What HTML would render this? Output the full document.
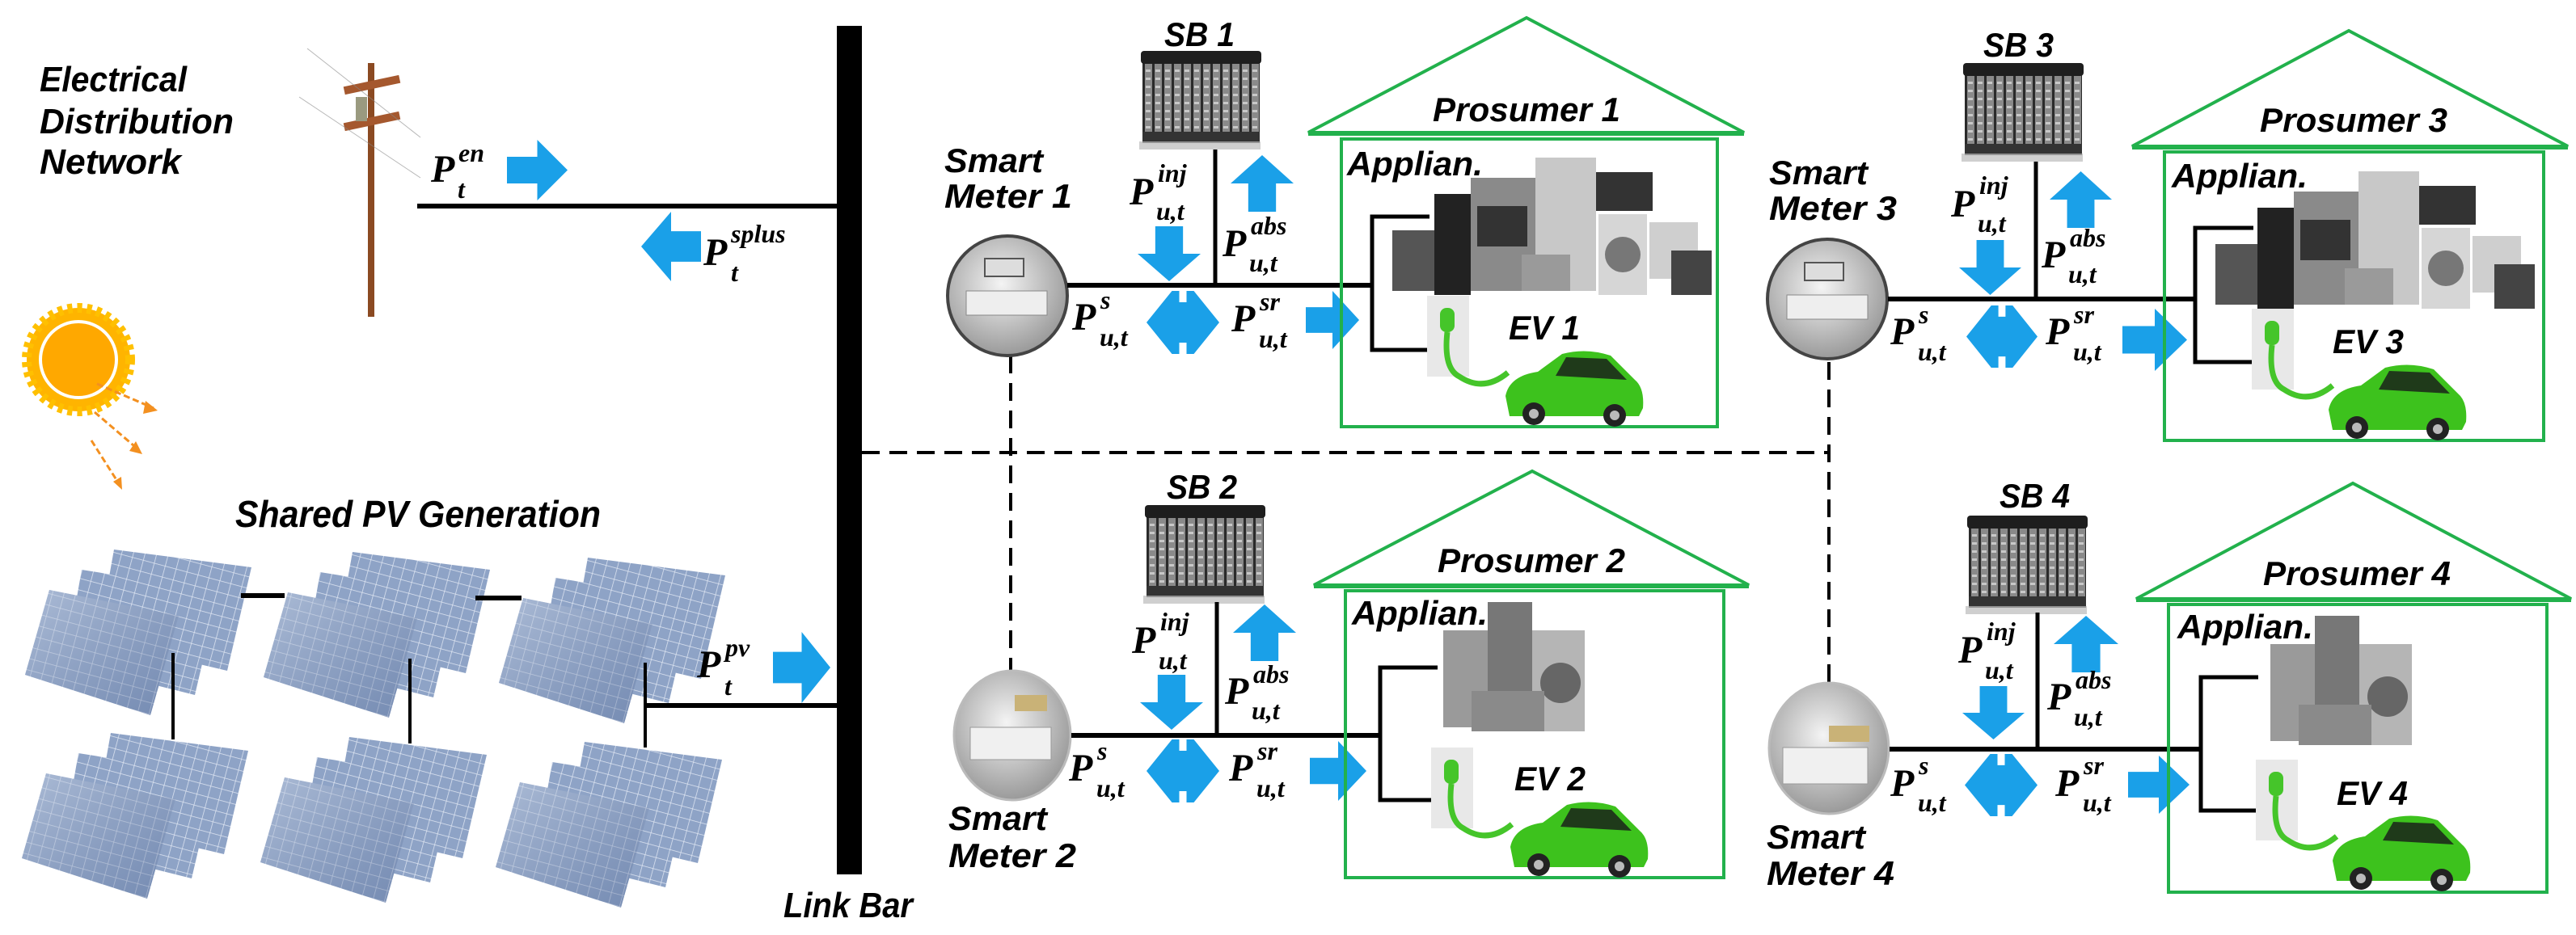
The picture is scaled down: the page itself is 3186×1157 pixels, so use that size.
<!DOCTYPE html>
<html><head><meta charset="utf-8"><style>
html,body{margin:0;padding:0;background:#fff;}
svg{display:block}
.t{font-family:"Liberation Sans Narrow","Liberation Sans",sans-serif;font-style:italic;font-weight:bold;fill:#000}
.m{font-family:"Liberation Serif",serif;font-style:italic;font-weight:bold;fill:#000}
.bl{fill:#1aa0e8}
.ln{stroke:#000;stroke-width:6;fill:none}
.hs{stroke:#22b14c;stroke-width:4;fill:none}
</style></head><body>
<svg width="3186" height="1157" viewBox="0 0 3186 1157" xmlns="http://www.w3.org/2000/svg">
<defs>
<pattern id="grid" width="14" height="14" patternUnits="userSpaceOnUse" patternTransform="rotate(15)">
<rect width="14" height="14" fill="#8ea3c6"/><path d="M0 0H14M0 0V14" stroke="#dfe6f2" stroke-width="1.5"/></pattern>
<linearGradient id="pg" x1="0" y1="0" x2="1" y2="1"><stop offset="0" stop-color="#c9d4e6" stop-opacity=".5"/><stop offset="1" stop-color="#4d6593" stop-opacity=".4"/></linearGradient>
<pattern id="bat" width="12" height="10" patternUnits="userSpaceOnUse"><rect width="12" height="10" fill="#8a8a8a"/><rect x="0" width="3" height="10" fill="#2a2a2a"/><rect x="4" y="3" width="6" height="3" fill="#c8c8c8"/></pattern>
<radialGradient id="mg" cx=".45" cy=".4" r=".6"><stop offset="0" stop-color="#f4f4f4"/><stop offset="1" stop-color="#9a9a9a"/></radialGradient>
<g id="panel">
<polygon points="120,0 290,22 260,150 100,112" fill="url(#grid)"/>
<polygon points="80,25 250,52 220,180 60,140" fill="url(#grid)"/>
<polygon points="40,50 200,82 165,205 10,155" fill="url(#grid)"/>
<polygon points="40,50 200,82 165,205 10,155" fill="url(#pg)"/>
</g>
<g id="bt">
<rect x="0" y="10" width="145" height="95" fill="url(#bat)"/>
<rect x="-2" y="0" width="149" height="16" rx="4" fill="#1e1e1e"/>
<rect x="0" y="100" width="145" height="14" fill="#333"/>
<rect x="-4" y="112" width="150" height="10" fill="#bbb" opacity=".7"/>
</g>
<g id="car">
<path d="M0,60 Q5,35 40,30 L70,8 Q100,0 130,10 L160,40 Q172,50 170,75 L165,85 L5,85 Z" fill="#3dc21d"/>
<path d="M75,12 L125,14 L150,40 L62,35 Z" fill="#1f3a1a"/>
<circle cx="35" cy="82" r="14" fill="#222"/><circle cx="135" cy="84" r="14" fill="#222"/>
<circle cx="35" cy="82" r="6" fill="#bbb"/><circle cx="135" cy="84" r="6" fill="#bbb"/>
</g>
<g id="plug">
<rect x="0" y="0" width="52" height="100" fill="#e8e8e8"/>
<rect x="16" y="15" width="18" height="30" rx="8" fill="#45c52a"/>
<path d="M25,45 Q20,90 40,100 Q70,120 100,95" stroke="#45c52a" stroke-width="7" fill="none"/>
</g>
<g id="app1">
<rect x="0" y="90" width="60" height="75" fill="#555"/>
<rect x="52" y="45" width="45" height="125" fill="#222"/>
<rect x="97" y="25" width="80" height="140" fill="#8a8a8a"/><rect x="105" y="60" width="62" height="50" fill="#333"/>
<rect x="177" y="0" width="75" height="165" fill="#c8c8c8"/>
<rect x="252" y="18" width="70" height="48" fill="#333"/>
<rect x="255" y="70" width="60" height="100" fill="#d6d6d6"/><circle cx="285" cy="120" r="22" fill="#777"/>
<rect x="318" y="80" width="60" height="70" fill="#cfcfcf"/>
<rect x="345" y="115" width="50" height="55" fill="#444"/>
<rect x="160" y="120" width="60" height="45" fill="#9a9a9a"/>
</g>
<g id="app2">
<rect x="0" y="35" width="55" height="120" fill="#9a9a9a"/>
<rect x="55" y="0" width="55" height="160" fill="#777"/>
<rect x="110" y="35" width="65" height="125" fill="#b5b5b5"/><circle cx="145" cy="100" r="25" fill="#666"/>
<rect x="35" y="110" width="90" height="50" fill="#8a8a8a"/>
</g>
</defs>

<rect x="1035" y="32" width="31" height="1050" fill="#000"/>
<text class="t" x="969" y="1135" font-size="44" textLength="160" lengthAdjust="spacingAndGlyphs">Link Bar</text>

<text class="t" x="49" y="113" font-size="44" textLength="182" lengthAdjust="spacingAndGlyphs">Electrical</text>
<text class="t" x="49" y="165" font-size="44" textLength="240" lengthAdjust="spacingAndGlyphs">Distribution</text>
<text class="t" x="49" y="215" font-size="44" textLength="175" lengthAdjust="spacingAndGlyphs">Network</text>
<rect x="455" y="78" width="8" height="314" fill="#8b4a22"/>
<rect x="425" y="100" width="70" height="10" fill="#a5582e" transform="rotate(-12 460 105)"/>
<rect x="425" y="145" width="70" height="10" fill="#a5582e" transform="rotate(-12 460 150)"/>
<rect x="440" y="120" width="14" height="30" fill="#9a9a80"/>
<path d="M380,60 L520,170 M370,120 L520,220" stroke="#888" stroke-width="1" opacity=".6"/>
<line class="ln" x1="516" y1="255" x2="1035" y2="255"/>
<g class="bl" transform="translate(627,173) scale(.75,.75)"><path d="M0,28 H50 V0 L100,50 L50,100 V72 H0 Z"/></g>
<text class="m" x="533" y="225" font-size="48">P<tspan x="567" y="200" font-size="32">en</tspan><tspan x="566" y="245" font-size="32">t</tspan></text>
<g class="bl" transform="translate(867,262) scale(-.74,.86)"><path d="M0,28 H50 V0 L100,50 L50,100 V72 H0 Z"/></g>
<text class="m" x="870" y="328" font-size="48">P<tspan x="904" y="300" font-size="32">splus</tspan><tspan x="904" y="348" font-size="32">t</tspan></text>

<g transform="translate(97,445)">
<circle r="64" fill="#ffb400" stroke="#ffc000" stroke-width="12" stroke-dasharray="6 6"/>
<circle r="47" fill="#ffa800" stroke="#fff" stroke-width="4"/>
</g>
<g stroke="#f39020" stroke-width="3" stroke-dasharray="8 4" fill="none">
<line x1="120" y1="475" x2="190" y2="505"/><line x1="117" y1="510" x2="172" y2="557"/><line x1="113" y1="545" x2="148" y2="600"/>
</g>
<g fill="#f39020"><polygon points="195,508 180,496 177,512"/><polygon points="176,562 168,546 160,558"/><polygon points="151,606 150,590 140,596"/></g>

<text class="t" x="291" y="652" font-size="46" textLength="452" lengthAdjust="spacingAndGlyphs">Shared PV Generation</text>
<use href="#panel" x="21" y="680"/><use href="#panel" x="316" y="683"/><use href="#panel" x="607" y="690"/>
<use href="#panel" x="17" y="907"/><use href="#panel" x="312" y="912"/><use href="#panel" x="603" y="918"/>
<g stroke="#000" fill="none">
<line x1="298" y1="737" x2="352" y2="737" stroke-width="6"/><line x1="588" y1="740" x2="645" y2="740" stroke-width="6"/>
<line x1="214" y1="808" x2="214" y2="915" stroke-width="4"/><line x1="507" y1="815" x2="507" y2="920" stroke-width="4"/>
<line x1="798" y1="820" x2="798" y2="925" stroke-width="4"/><line x1="798" y1="873" x2="1035" y2="873" stroke-width="6"/>
</g>
<g class="bl" transform="translate(956,782) scale(.71,.88)"><path d="M0,28 H50 V0 L100,50 L50,100 V72 H0 Z"/></g>
<text class="m" x="862" y="838" font-size="48">P<tspan x="897" y="812" font-size="32">pv</tspan><tspan x="896" y="860" font-size="32">t</tspan></text>

<g stroke="#000" stroke-width="4" stroke-dasharray="22 12" fill="none">
<line x1="1066" y1="560" x2="2262" y2="560"/>
<line x1="1250" y1="440" x2="1250" y2="835"/>
<line x1="2262" y1="448" x2="2262" y2="845"/>
</g>

<!-- Row 1 -->
<text class="t" x="1168" y="213" font-size="42" textLength="122" lengthAdjust="spacingAndGlyphs">Smart</text>
<text class="t" x="1168" y="257" font-size="42" textLength="158" lengthAdjust="spacingAndGlyphs">Meter 1</text>
<ellipse cx="1246" cy="366" rx="74" ry="74" fill="url(#mg)" stroke="#444" stroke-width="4"/>
<rect x="1218" y="320" width="48" height="22" fill="#ddd" stroke="#555" stroke-width="2"/>
<rect x="1195" y="360" width="100" height="30" fill="#eee" stroke="#888"/>
<text class="t" x="1440" y="57" font-size="42" textLength="87" lengthAdjust="spacingAndGlyphs">SB 1</text>
<use href="#bt" x="1413" y="63"/>
<line class="ln" x1="1320" y1="353" x2="1697" y2="353"/>
<line class="ln" x1="1503" y1="185" x2="1503" y2="353" style="stroke-width:5"/>
<polyline class="ln" points="1768,268 1697,268 1697,433 1768,433" style="stroke-width:5"/>
<g class="bl" transform="translate(1407,280) scale(.78,.68)"><path d="M28,0 V50 H0 L50,100 L100,50 H72 V0 Z"/></g>
<g class="bl" transform="translate(1522,192) scale(.78,.70)"><path d="M28,100 V50 H0 L50,0 L100,50 H72 V100 Z"/></g>
<g class="bl" transform="translate(1418,360) scale(.9,.78)"><path d="M0,50 L35,0 H45 V18 H55 V0 H65 L100,50 L65,100 H55 V82 H45 V100 H35 Z"/></g>
<g class="bl" transform="translate(1615,360) scale(.66,.72)"><path d="M0,28 H50 V0 L100,50 L50,100 V72 H0 Z"/></g>
<text class="m" x="1397" y="253" font-size="48">P<tspan x="1432" y="225" font-size="32">inj</tspan><tspan x="1430" y="272" font-size="32">u,t</tspan></text>
<text class="m" x="1512" y="317" font-size="48">P<tspan x="1547" y="290" font-size="32">abs</tspan><tspan x="1545" y="336" font-size="32">u,t</tspan></text>
<text class="m" x="1326" y="408" font-size="48">P<tspan x="1361" y="382" font-size="32">s</tspan><tspan x="1360" y="428" font-size="32">u,t</tspan></text>
<text class="m" x="1523" y="410" font-size="48">P<tspan x="1558" y="384" font-size="32">sr</tspan><tspan x="1557" y="430" font-size="32">u,t</tspan></text>
<polygon class="hs" points="1618,164 1888,22 2157,164"/>
<rect class="hs" x="1659" y="172" width="465" height="356"/>
<line x1="1618" y1="165" x2="2157" y2="165" stroke="#22b14c" stroke-width="6"/>
<text class="t" x="1772" y="150" font-size="42" textLength="232" lengthAdjust="spacingAndGlyphs">Prosumer 1</text>
<text class="t" x="1666" y="217" font-size="42" textLength="168" lengthAdjust="spacingAndGlyphs">Applian.</text>
<use href="#app1" x="1722" y="195"/>
<use href="#plug" x="1765" y="366"/>
<text class="t" x="1866" y="420" font-size="42" textLength="88" lengthAdjust="spacingAndGlyphs">EV 1</text>
<use href="#car" x="1862" y="430"/>

<!-- Row 2 -->
<text class="t" x="1173" y="1027" font-size="42" textLength="122" lengthAdjust="spacingAndGlyphs">Smart</text>
<text class="t" x="1173" y="1073" font-size="42" textLength="158" lengthAdjust="spacingAndGlyphs">Meter 2</text>
<ellipse cx="1252" cy="910" rx="72" ry="80" fill="url(#mg)" stroke="#bbb" stroke-width="3"/>
<rect x="1255" y="860" width="40" height="20" fill="#c9b277"/>
<rect x="1200" y="900" width="100" height="40" fill="#f0f0f0" stroke="#999"/>
<text class="t" x="1443" y="617" font-size="42" textLength="87" lengthAdjust="spacingAndGlyphs">SB 2</text>
<use href="#bt" x="1418" y="625"/>
<line class="ln" x1="1325" y1="910" x2="1707" y2="910"/>
<line class="ln" x1="1505" y1="745" x2="1505" y2="910" style="stroke-width:5"/>
<polyline class="ln" points="1778,826 1707,826 1707,990 1778,990" style="stroke-width:5"/>
<g class="bl" transform="translate(1410,835) scale(.78,.68)"><path d="M28,0 V50 H0 L50,100 L100,50 H72 V0 Z"/></g>
<g class="bl" transform="translate(1525,748) scale(.78,.70)"><path d="M28,100 V50 H0 L50,0 L100,50 H72 V100 Z"/></g>
<g class="bl" transform="translate(1418,915) scale(.9,.78)"><path d="M0,50 L35,0 H45 V18 H55 V0 H65 L100,50 L65,100 H55 V82 H45 V100 H35 Z"/></g>
<g class="bl" transform="translate(1620,917) scale(.70,.74)"><path d="M0,28 H50 V0 L100,50 L50,100 V72 H0 Z"/></g>
<text class="m" x="1400" y="808" font-size="48">P<tspan x="1435" y="780" font-size="32">inj</tspan><tspan x="1433" y="828" font-size="32">u,t</tspan></text>
<text class="m" x="1515" y="871" font-size="48">P<tspan x="1550" y="845" font-size="32">abs</tspan><tspan x="1548" y="890" font-size="32">u,t</tspan></text>
<text class="m" x="1322" y="966" font-size="48">P<tspan x="1357" y="940" font-size="32">s</tspan><tspan x="1356" y="986" font-size="32">u,t</tspan></text>
<text class="m" x="1520" y="966" font-size="48">P<tspan x="1555" y="940" font-size="32">sr</tspan><tspan x="1554" y="986" font-size="32">u,t</tspan></text>
<polygon class="hs" points="1625,724 1895,583 2163,724"/>
<rect class="hs" x="1664" y="731" width="468" height="355"/>
<line x1="1625" y1="725" x2="2163" y2="725" stroke="#22b14c" stroke-width="6"/>
<text class="t" x="1778" y="708" font-size="42" textLength="232" lengthAdjust="spacingAndGlyphs">Prosumer 2</text>
<text class="t" x="1672" y="773" font-size="42" textLength="168" lengthAdjust="spacingAndGlyphs">Applian.</text>
<use href="#app2" x="1785" y="745"/>
<use href="#plug" x="1770" y="925"/>
<text class="t" x="1873" y="978" font-size="42" textLength="88" lengthAdjust="spacingAndGlyphs">EV 2</text>
<use href="#car" x="1868" y="988"/>

<!-- Row 3 -->
<text class="t" x="2188" y="228" font-size="42" textLength="122" lengthAdjust="spacingAndGlyphs">Smart</text>
<text class="t" x="2188" y="272" font-size="42" textLength="158" lengthAdjust="spacingAndGlyphs">Meter 3</text>
<ellipse cx="2260" cy="370" rx="74" ry="74" fill="url(#mg)" stroke="#444" stroke-width="4"/>
<rect x="2232" y="325" width="48" height="22" fill="#ddd" stroke="#555" stroke-width="2"/>
<rect x="2210" y="365" width="100" height="30" fill="#eee" stroke="#888"/>
<text class="t" x="2453" y="70" font-size="42" textLength="87" lengthAdjust="spacingAndGlyphs">SB 3</text>
<use href="#bt" x="2430" y="78"/>
<line class="ln" x1="2335" y1="370" x2="2715" y2="370"/>
<line class="ln" x1="2518" y1="200" x2="2518" y2="370" style="stroke-width:5"/>
<polyline class="ln" points="2787,282 2715,282 2715,448 2787,448" style="stroke-width:5"/>
<g class="bl" transform="translate(2423,297) scale(.77,.68)"><path d="M28,0 V50 H0 L50,100 L100,50 H72 V0 Z"/></g>
<g class="bl" transform="translate(2535,212) scale(.77,.70)"><path d="M28,100 V50 H0 L50,0 L100,50 H72 V100 Z"/></g>
<g class="bl" transform="translate(2432,378) scale(.88,.77)"><path d="M0,50 L35,0 H45 V18 H55 V0 H65 L100,50 L65,100 H55 V82 H45 V100 H35 Z"/></g>
<g class="bl" transform="translate(2625,382) scale(.80,.77)"><path d="M0,28 H50 V0 L100,50 L50,100 V72 H0 Z"/></g>
<text class="m" x="2413" y="268" font-size="48">P<tspan x="2448" y="240" font-size="32">inj</tspan><tspan x="2446" y="287" font-size="32">u,t</tspan></text>
<text class="m" x="2525" y="331" font-size="48">P<tspan x="2560" y="305" font-size="32">abs</tspan><tspan x="2558" y="350" font-size="32">u,t</tspan></text>
<text class="m" x="2338" y="426" font-size="48">P<tspan x="2373" y="400" font-size="32">s</tspan><tspan x="2372" y="446" font-size="32">u,t</tspan></text>
<text class="m" x="2530" y="426" font-size="48">P<tspan x="2565" y="400" font-size="32">sr</tspan><tspan x="2564" y="446" font-size="32">u,t</tspan></text>
<polygon class="hs" points="2637,181 2905,38 3176,181"/>
<rect class="hs" x="2677" y="188" width="469" height="357"/>
<line x1="2637" y1="182" x2="3176" y2="182" stroke="#22b14c" stroke-width="6"/>
<text class="t" x="2795" y="163" font-size="42" textLength="232" lengthAdjust="spacingAndGlyphs">Prosumer 3</text>
<text class="t" x="2686" y="232" font-size="42" textLength="168" lengthAdjust="spacingAndGlyphs">Applian.</text>
<use href="#app1" x="2740" y="212"/>
<use href="#plug" x="2785" y="382"/>
<text class="t" x="2885" y="437" font-size="42" textLength="88" lengthAdjust="spacingAndGlyphs">EV 3</text>
<use href="#car" x="2880" y="447"/>

<!-- Row 4 -->
<text class="t" x="2185" y="1050" font-size="42" textLength="122" lengthAdjust="spacingAndGlyphs">Smart</text>
<text class="t" x="2185" y="1095" font-size="42" textLength="158" lengthAdjust="spacingAndGlyphs">Meter 4</text>
<ellipse cx="2262" cy="926" rx="74" ry="81" fill="url(#mg)" stroke="#bbb" stroke-width="3"/>
<rect x="2262" y="898" width="50" height="20" fill="#c9b277"/>
<rect x="2205" y="925" width="105" height="45" fill="#f0f0f0" stroke="#999"/>
<text class="t" x="2473" y="628" font-size="42" textLength="87" lengthAdjust="spacingAndGlyphs">SB 4</text>
<use href="#bt" x="2435" y="638"/>
<line class="ln" x1="2337" y1="927" x2="2722" y2="927"/>
<line class="ln" x1="2520" y1="758" x2="2520" y2="927" style="stroke-width:5"/>
<polyline class="ln" points="2793,838 2722,838 2722,1003 2793,1003" style="stroke-width:5"/>
<g class="bl" transform="translate(2427,849) scale(.77,.66)"><path d="M28,0 V50 H0 L50,100 L100,50 H72 V0 Z"/></g>
<g class="bl" transform="translate(2540,762) scale(.80,.70)"><path d="M28,100 V50 H0 L50,0 L100,50 H72 V100 Z"/></g>
<g class="bl" transform="translate(2430,933) scale(.90,.77)"><path d="M0,50 L35,0 H45 V18 H55 V0 H65 L100,50 L65,100 H55 V82 H45 V100 H35 Z"/></g>
<g class="bl" transform="translate(2632,935) scale(.76,.72)"><path d="M0,28 H50 V0 L100,50 L50,100 V72 H0 Z"/></g>
<text class="m" x="2422" y="820" font-size="48">P<tspan x="2457" y="792" font-size="32">inj</tspan><tspan x="2455" y="840" font-size="32">u,t</tspan></text>
<text class="m" x="2532" y="878" font-size="48">P<tspan x="2567" y="852" font-size="32">abs</tspan><tspan x="2565" y="898" font-size="32">u,t</tspan></text>
<text class="m" x="2338" y="985" font-size="48">P<tspan x="2373" y="958" font-size="32">s</tspan><tspan x="2372" y="1004" font-size="32">u,t</tspan></text>
<text class="m" x="2542" y="985" font-size="48">P<tspan x="2577" y="958" font-size="32">sr</tspan><tspan x="2576" y="1004" font-size="32">u,t</tspan></text>
<polygon class="hs" points="2642,741 2910,598 3180,741"/>
<rect class="hs" x="2682" y="748" width="468" height="356"/>
<line x1="2642" y1="742" x2="3180" y2="742" stroke="#22b14c" stroke-width="6"/>
<text class="t" x="2799" y="724" font-size="42" textLength="232" lengthAdjust="spacingAndGlyphs">Prosumer 4</text>
<text class="t" x="2693" y="790" font-size="42" textLength="168" lengthAdjust="spacingAndGlyphs">Applian.</text>
<use href="#app2" x="2808" y="762"/>
<use href="#plug" x="2790" y="940"/>
<text class="t" x="2890" y="996" font-size="42" textLength="88" lengthAdjust="spacingAndGlyphs">EV 4</text>
<use href="#car" x="2885" y="1005"/>
</svg>
</body></html>
